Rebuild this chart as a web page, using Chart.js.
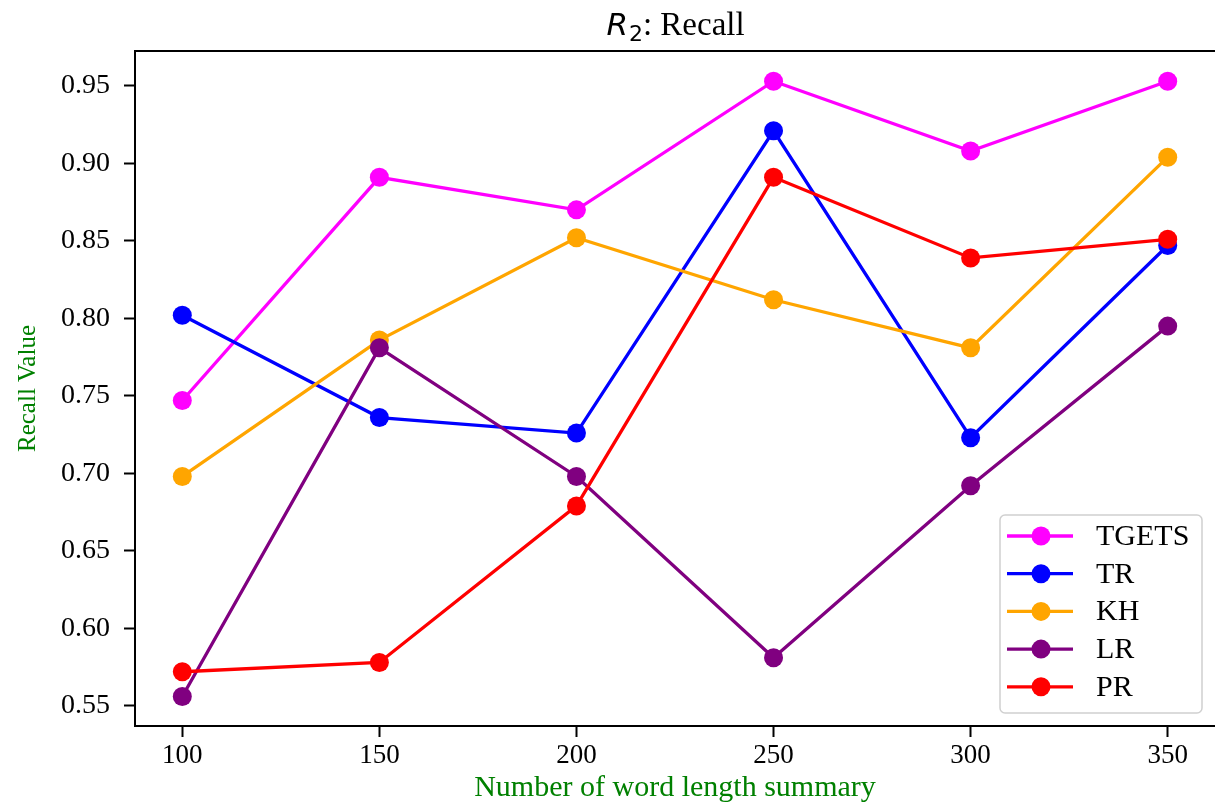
<!DOCTYPE html>
<html>
<head>
<meta charset="utf-8">
<script src="https://cdn.jsdelivr.net/npm/chart.js@4"></script>
<style>
  html, body { margin: 0; padding: 0; background: #fff; overflow: hidden; }
  #wrap { width: 1215px; height: 803px; position: relative; }
</style>
</head>
<body>
<div id="wrap"><canvas id="chart"></canvas></div>
<script>
// x軸：要約の単語数
const wordLengths = [100, 150, 200, 250, 300, 350];

// 各手法の Recall 値
const tgets = [0.747, 0.891, 0.870, 0.953, 0.908, 0.953];
const tr    = [0.802, 0.736, 0.726, 0.921, 0.723, 0.847];
const kh    = [0.698, 0.786, 0.852, 0.812, 0.781, 0.904];
const lr    = [0.556, 0.781, 0.698, 0.581, 0.692, 0.795];
const pr    = [0.572, 0.578, 0.679, 0.891, 0.839, 0.851];

const seriesNames = ['TGETS', 'TR', 'KH', 'LR', 'PR'];
const seriesColors = ['#ff00ff', '#0000ff', '#ffa500', '#800080', '#ff0000'];

// 目盛り
const xTicks = [100, 150, 200, 250, 300, 350];
const yTicks = [0.55, 0.60, 0.65, 0.70, 0.75, 0.80, 0.85, 0.90, 0.95];

const titleMain = 'R';
const titleSub = '2';
const titleRest = ': Recall';
const xTitle = 'Number of word length summary';
const yTitle = 'Recall Value';

const SERIF = '"Liberation Serif", "Times New Roman", serif';

// 枠線（右端は画像の外なので上・左・下だけ）
const frame = {
    id: 'frame',
    afterDatasetsDraw(chart) {
        const { ctx, chartArea: a } = chart;
        ctx.save();
        ctx.strokeStyle = '#000';
        ctx.lineWidth = 2;
        ctx.beginPath();
        ctx.moveTo(a.right + 2, a.top);
        ctx.lineTo(a.left, a.top);
        ctx.lineTo(a.left, a.bottom);
        ctx.lineTo(a.right + 2, a.bottom);
        ctx.stroke();
        ctx.restore();
    }
};

// タイトル（R はイタリック、2 は下付き）
const mathTitle = {
    id: 'mathTitle',
    afterDraw(chart) {
        const { ctx, chartArea: a } = chart;
        const cx = (a.left + a.right) / 2;
        const base = 35;
        const fR = 'italic 31px "DejaVu Sans"';
        const f2 = '22px "DejaVu Sans"';
        const fRest = '33px ' + SERIF;
        ctx.save();
        ctx.fillStyle = '#000';
        ctx.textBaseline = 'alphabetic';
        ctx.textAlign = 'left';
        ctx.font = fR;
        const wR = ctx.measureText(titleMain).width;
        ctx.font = f2;
        const w2 = ctx.measureText(titleSub).width;
        ctx.font = fRest;
        const wRest = ctx.measureText(titleRest).width;
        let x = cx - (wR + w2 + wRest) / 2;
        ctx.font = fR;
        ctx.fillText(titleMain, x, base);
        x += wR + 1;
        ctx.font = f2;
        ctx.fillText(titleSub, x, base + 6);
        x += w2;
        ctx.font = fRest;
        ctx.fillText(titleRest, x, base);
        ctx.restore();
    }
};

// 凡例（右下、線＋丸マーカー）
const boxLegend = {
    id: 'boxLegend',
    afterDraw(chart) {
        const { ctx, chartArea: a } = chart;
        const w = 202, h = 198;
        const x0 = a.right - 13 - w;
        const y0 = a.bottom - 13 - h;
        ctx.save();
        ctx.beginPath();
        ctx.roundRect(x0, y0, w, h, 5);
        ctx.fillStyle = 'rgba(255,255,255,0.8)';
        ctx.fill();
        ctx.strokeStyle = '#d0d0d0';
        ctx.lineWidth = 1.5;
        ctx.stroke();
        chart.data.datasets.forEach((ds, i) => {
            const y = y0 + 21 + i * 37.7;
            ctx.strokeStyle = ds.borderColor;
            ctx.lineWidth = 3.3;
            ctx.beginPath();
            ctx.moveTo(x0 + 7, y);
            ctx.lineTo(x0 + 73, y);
            ctx.stroke();
            ctx.fillStyle = ds.borderColor;
            ctx.beginPath();
            ctx.arc(x0 + 41, y, 9.5, 0, Math.PI * 2);
            ctx.fill();
            ctx.fillStyle = '#000';
            ctx.font = '30px ' + SERIF;
            ctx.textAlign = 'left';
            ctx.textBaseline = 'middle';
            ctx.fillText(ds.label, x0 + 96, y + 1);
        });
        ctx.restore();
    }
};

const allSeries = [tgets, tr, kh, lr, pr];
const datasets = allSeries.map((vals, i) => ({
    label: seriesNames[i],
    data: wordLengths.map((x, j) => ({ x: x, y: vals[j] })),
    borderColor: seriesColors[i],
    backgroundColor: seriesColors[i],
    borderWidth: 3.3,
    pointRadius: 9.5,
    pointHoverRadius: 9.5,
    pointBorderWidth: 0,
    tension: 0,
    order: allSeries.length - i // 後の系列を上に描く
}));

const ctx = document.getElementById('chart').getContext('2d');
new Chart(ctx, {
    type: 'line',
    data: { datasets: datasets },
    options: {
        responsive: true,
        maintainAspectRatio: false,
        animation: false,
        layout: { autoPadding: false, padding: { top: 51, right: 0, bottom: 0, left: 0 } },
        plugins: {
            legend: { display: false },
            title: { display: false },
            tooltip: { enabled: false }
        },
        scales: {
            x: {
                type: 'linear',
                min: 88,
                max: 362,
                afterBuildTicks: s => { s.ticks = xTicks.map(v => ({ value: v })); },
                afterFit: s => { s.height = 77; s.paddingLeft = 0; s.paddingRight = 0; },
                border: { display: false },
                grid: {
                    drawOnChartArea: false,
                    drawTicks: true,
                    tickLength: 11,
                    tickWidth: 2,
                    tickColor: '#000'
                },
                ticks: {
                    color: '#000',
                    font: { family: SERIF, size: 27 },
                    padding: 3,
                    maxRotation: 0
                },
                title: {
                    display: true,
                    text: xTitle,
                    color: 'green',
                    font: { family: SERIF, size: 30, lineHeight: 1 },
                    padding: { top: 0, bottom: 0 }
                }
            },
            y: {
                type: 'linear',
                min: 0.537,
                max: 0.9725,
                afterBuildTicks: s => { s.ticks = yTicks.map(v => ({ value: v })); },
                afterFit: s => { s.width = 135; s.paddingTop = 0; s.paddingBottom = 0; },
                border: { display: false },
                grid: {
                    drawOnChartArea: false,
                    drawTicks: true,
                    tickLength: 11,
                    tickWidth: 2,
                    tickColor: '#000'
                },
                ticks: {
                    color: '#000',
                    font: { family: SERIF, size: 28 },
                    padding: 14,
                    callback: v => Number(v).toFixed(2)
                },
                title: {
                    display: true,
                    text: yTitle,
                    color: 'green',
                    font: { family: SERIF, size: 25, lineHeight: 1 },
                    padding: { top: 16, bottom: 0 }
                }
            }
        }
    },
    plugins: [frame, mathTitle, boxLegend]
});
</script>
</body>
</html>
